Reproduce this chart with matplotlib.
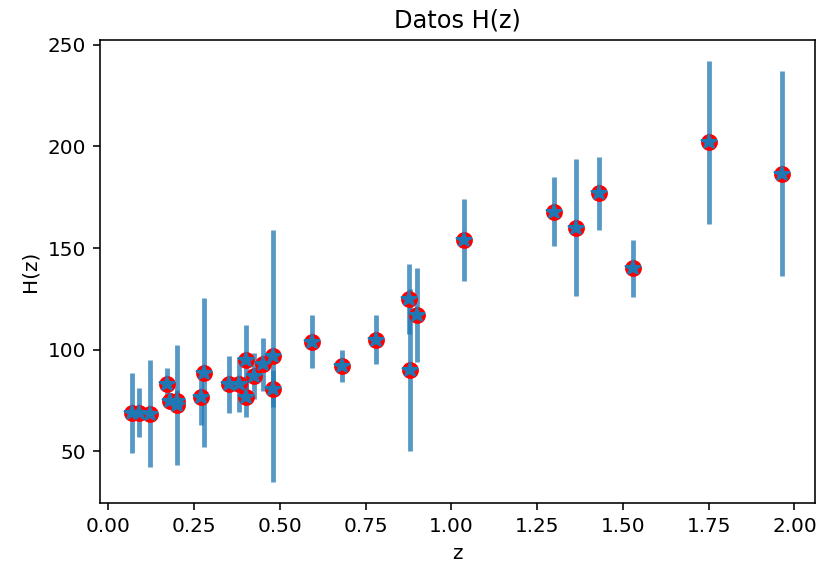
#!/usr/bin/env python3
"""Plot of the H(z) measurements with their error bars."""

import matplotlib

matplotlib.use("Agg")

import matplotlib.pyplot as plt

# redshift, Hubble parameter [km/s/Mpc] and 1-sigma uncertainty
z = [0.07, 0.09, 0.12, 0.17, 0.179, 0.199, 0.2, 0.27, 0.28, 0.352,
     0.3802, 0.4, 0.4004, 0.4247, 0.4497, 0.4783, 0.48, 0.593, 0.68, 0.781,
     0.875, 0.88, 0.9, 1.037, 1.3, 1.363, 1.43, 1.53, 1.75, 1.965]
hz = [69, 69, 68.6, 83, 75, 75, 72.9, 77, 88.8, 83,
      83, 95, 77, 87.1, 92.8, 80.9, 97, 104, 92, 105,
      125, 90, 117, 154, 168, 160, 177, 140, 202, 186.5]
sigma = [19.6, 12, 26.2, 8, 4, 5, 29.6, 14, 36.6, 14,
         13.5, 17, 10.2, 11.2, 12.9, 9, 62, 13, 8, 12,
         17, 40, 23, 20, 17, 33.6, 18, 14, 40, 50.4]


def main() -> None:
    fig = plt.figure(figsize=(818 / 144, 571 / 144), dpi=144)
    ax = fig.add_axes([0.1222, 0.119, 0.8741, 0.811])

    ax.errorbar(z, hz, yerr=sigma, fmt="none", ecolor="C0", alpha=0.75,
                elinewidth=2.4, zorder=1)
    ax.plot(z, hz, "o", color="red", markersize=7.4, zorder=2)
    ax.plot(z, hz, "*", color="C0", markersize=8, zorder=3)

    ax.set_title("Datos H(z)")
    ax.set_xlabel("z")
    ax.set_ylabel("H(z)")

    fig.savefig("out.png", dpi=144)


if __name__ == "__main__":
    main()
